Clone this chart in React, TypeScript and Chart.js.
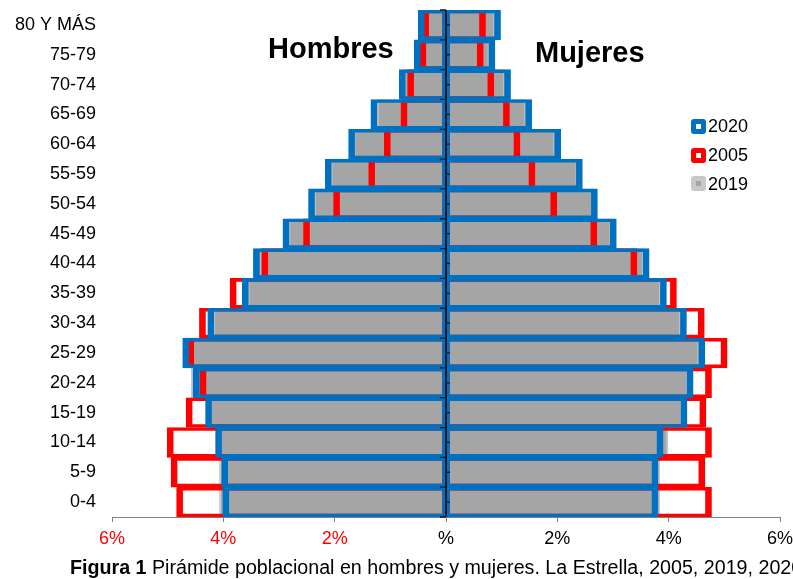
import React, { useEffect, useRef } from "react";
import { Chart, registerables } from "chart.js";

Chart.register(...registerables);

// Age groups, bottom to top
const ageGroups = [
  "0-4", "5-9", "10-14", "15-19", "20-24", "25-29", "30-34", "35-39", "40-44",
  "45-49", "50-54", "55-59", "60-64", "65-69", "70-74", "75-79", "80 Y MÁS",
];

// Percentages (men shown on the left as negatives)
const men2020 = [4.01, 4.03, 4.14, 4.32, 4.54, 4.73, 4.28, 3.66, 3.46, 2.93, 2.47, 2.17, 1.75, 1.35, 0.84, 0.57, 0.5];
const men2005 = [4.84, 4.94, 5.01, 4.67, 4.42, 4.64, 4.43, 3.88, 3.31, 2.56, 2.02, 1.39, 1.11, 0.81, 0.69, 0.47, 0.42];
const men2019 = [4.07, 4.07, 4.08, 4.24, 4.58, 4.6, 4.18, 3.56, 3.36, 2.83, 2.37, 2.07, 1.66, 1.24, 0.75, 0.48, 0.4];

const women2020 = [3.81, 3.81, 3.9, 4.33, 4.44, 4.65, 4.32, 3.96, 3.65, 3.06, 2.72, 2.45, 2.06, 1.54, 1.16, 0.88, 0.98];
const women2005 = [4.77, 4.65, 4.77, 4.67, 4.77, 5.05, 4.64, 4.14, 3.43, 2.71, 1.99, 1.6, 1.33, 1.14, 0.86, 0.67, 0.71];
const women2019 = [3.84, 3.84, 3.99, 4.24, 4.35, 4.55, 4.22, 3.86, 3.55, 2.97, 2.64, 2.36, 1.96, 1.44, 1.06, 0.78, 0.88];

const xMin = -6;
const xMax = 6;
const xStep = 2;

const legendYears = ["2020", "2005", "2019"];
const sideTitles = ["Hombres", "Mujeres"];
const captionBold = "Figura 1";
const captionText = " Pirámide poblacional en hombres y mujeres. La Estrella, 2005, 2019, 2020";

const BLUE = "#0070c0";
const RED = "#ff0000";
const GRAY = "#a5a5a5";
const GRAY_EDGE = "#c8c8c8";
const FONT = "'Liberation Sans', Arial, sans-serif";

const centerAxisPlugin = {
  id: "centerAxis",
  afterDatasetsDraw(chart: any) {
    const { ctx, chartArea, scales } = chart;
    const xs = scales.x;
    const x0 = xs.getPixelForValue(0);
    const n = ageGroups.length;
    const h = (chartArea.bottom - chartArea.top) / n;
    ctx.save();
    ctx.strokeStyle = "#000";
    ctx.lineWidth = 1.5;
    ctx.beginPath();
    ctx.moveTo(x0, chartArea.top);
    ctx.lineTo(x0, chartArea.bottom);
    ctx.stroke();
    ctx.strokeStyle = "#1a1a1a";
    ctx.lineWidth = 1.3;
    ctx.beginPath();
    for (let i = 0; i <= n; i++) {
      const y = chartArea.top + i * h;
      ctx.moveTo(x0 - 6, y);
      ctx.lineTo(x0, y);
    }
    for (let i = 0; i < n; i++) {
      const y = chartArea.top + (i + 0.5) * h;
      ctx.moveTo(x0, y);
      ctx.lineTo(x0 + 4, y);
    }
    ctx.stroke();
    ctx.restore();
  },
};

export default function App() {
  const canvasRef = useRef<HTMLCanvasElement | null>(null);

  useEffect(() => {
    if (!canvasRef.current) return;
    const neg = (a: number[]) => a.map((v) => -v);
    const menBorder = (w: number) => ({ left: w, right: 3, top: 3, bottom: 3 });
    const womenBorder = (w: number) => ({ left: 3, right: w, top: 3, bottom: 3 });
    const common = {
      grouped: false,
      barPercentage: 1,
      categoryPercentage: 1,
      borderSkipped: false as const,
    };

    const chart = new Chart(canvasRef.current, {
      type: "bar",
      data: {
        labels: ageGroups,
        datasets: [
          { ...common, label: legendYears[0], data: neg(men2020), backgroundColor: "rgba(0,0,0,0)", borderColor: BLUE, borderWidth: menBorder(6) },
          { ...common, label: legendYears[0] + "m", data: women2020, backgroundColor: "rgba(0,0,0,0)", borderColor: BLUE, borderWidth: womenBorder(6) },
          { ...common, label: legendYears[1], data: neg(men2005), backgroundColor: "rgba(0,0,0,0)", borderColor: RED, borderWidth: menBorder(6) },
          { ...common, label: legendYears[1] + "m", data: women2005, backgroundColor: "rgba(0,0,0,0)", borderColor: RED, borderWidth: womenBorder(6) },
          { ...common, label: legendYears[2], data: neg(men2019), backgroundColor: GRAY, borderColor: GRAY_EDGE, borderWidth: 2 },
          { ...common, label: legendYears[2] + "m", data: women2019, backgroundColor: GRAY, borderColor: GRAY_EDGE, borderWidth: 2 },
        ] as any,
      },
      options: {
        indexAxis: "y",
        animation: false,
        responsive: false,
        maintainAspectRatio: false,
        layout: { padding: { left: 0, right: 13, top: 10, bottom: 0 } },
        plugins: {
          legend: { display: false },
          tooltip: { enabled: false },
          title: { display: false },
        },
        scales: {
          x: {
            type: "linear",
            min: xMin,
            max: xMax,
            ticks: {
              stepSize: xStep,
              padding: 6,
              font: { family: FONT, size: 18 },
              color: (ctx: any) => (ctx.tick && ctx.tick.value < 0 ? RED : "#000"),
              callback: (v: any) => (Number(v) === 0 ? "%" : Math.abs(Number(v)) + "%"),
            },
            grid: {
              drawOnChartArea: false,
              drawTicks: true,
              tickLength: 5,
              tickColor: "#7f7f7f",
              color: "#7f7f7f",
            },
            border: { display: true, color: "#7f7f7f", width: 1 },
            afterFit: (s: any) => {
              s.height = 43;
              s.paddingLeft = 0;
              s.paddingRight = 0;
            },
          },
          y: {
            type: "category",
            reverse: true,
            ticks: {
              padding: 16,
              color: "#000",
              font: { family: FONT, size: 18, lineHeight: 1 },
            },
            grid: { display: false, drawTicks: false },
            border: { display: false },
            afterFit: (s: any) => {
              s.width = 112;
              s.paddingTop = 0;
              s.paddingBottom = 0;
            },
          },
        },
      } as any,
      plugins: [centerAxisPlugin],
    });
    return () => chart.destroy();
  }, []);

  const legendColors = [
    { border: BLUE, inner: "#fff" },
    { border: RED, inner: "#fff" },
    { border: GRAY_EDGE, inner: GRAY },
  ];

  return (
    <div
      style={{
        position: "absolute",
        left: 0,
        top: 0,
        width: 793,
        height: 579,
        background: "#fff",
        overflow: "hidden",
        fontFamily: FONT,
      }}
    >
      <canvas ref={canvasRef} width={793} height={560} style={{ position: "absolute", left: 0, top: 0 }} />
      <div style={{ position: "absolute", left: 268, top: 34, fontSize: 29, fontWeight: "bold", lineHeight: 1, color: "#000", whiteSpace: "nowrap" }}>
        {sideTitles[0]}
      </div>
      <div style={{ position: "absolute", left: 535, top: 38, fontSize: 29, fontWeight: "bold", lineHeight: 1, color: "#000", whiteSpace: "nowrap" }}>
        {sideTitles[1]}
      </div>
      <div style={{ position: "absolute", left: 691, top: 112 }}>
        {legendYears.map((y, i) => (
          <div key={y} style={{ display: "flex", alignItems: "center", height: 28.7 }}>
            <div
              style={{
                width: 15,
                height: 15,
                boxSizing: "border-box",
                border: `5px solid ${legendColors[i].border}`,
                borderRadius: 3,
                background: legendColors[i].inner,
              }}
            />
            <span style={{ fontSize: 18, lineHeight: 1, marginLeft: 2, color: "#000" }}>{y}</span>
          </div>
        ))}
      </div>
      <div
        style={{
          position: "absolute",
          left: 70,
          top: 557,
          fontSize: 20,
          lineHeight: 1,
          color: "#000",
          whiteSpace: "nowrap",
          transform: "scaleX(0.983)",
          transformOrigin: "left top",
        }}
      >
        <b>{captionBold}</b>
        {captionText}
      </div>
    </div>
  );
}
